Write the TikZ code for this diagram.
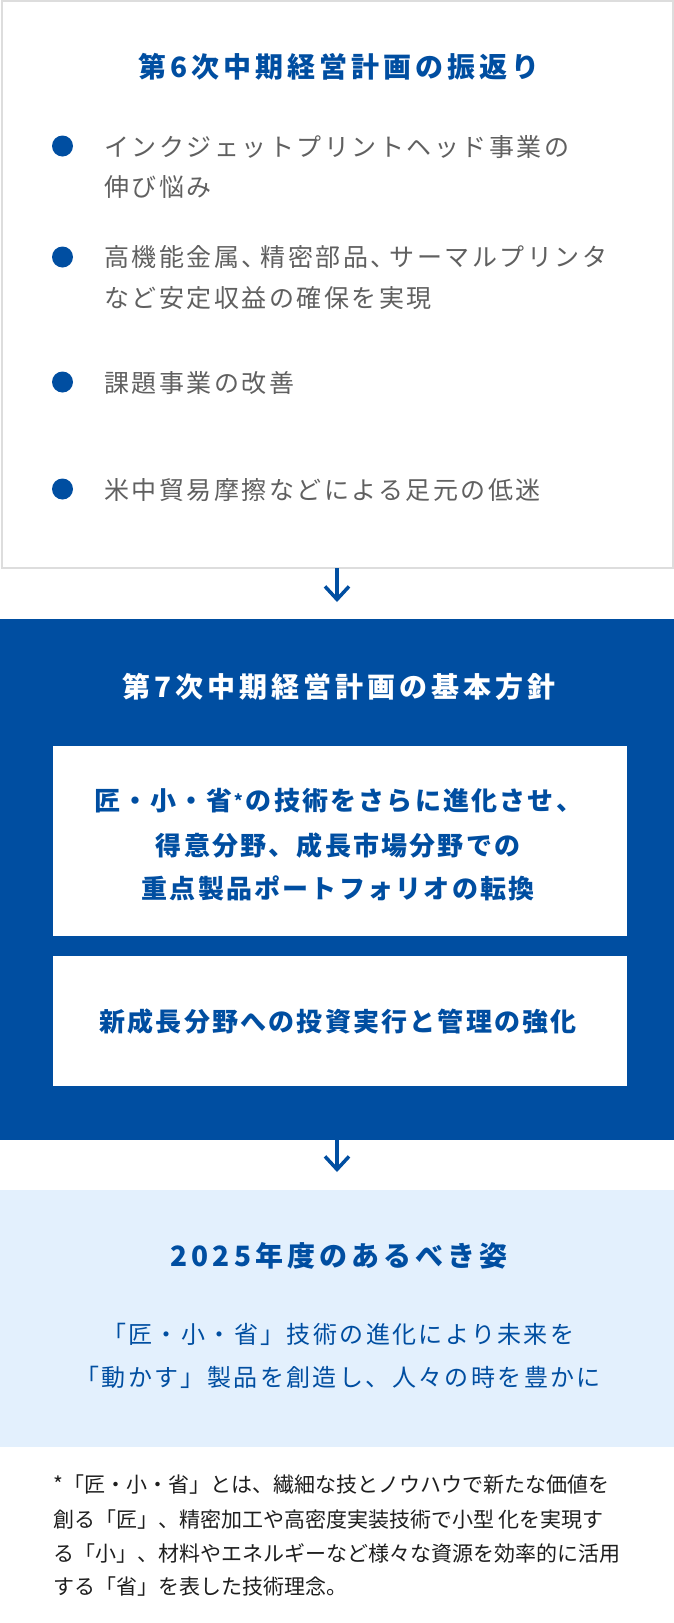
\documentclass[tikz,border=0pt]{standalone}
\usepackage{fontspec}
\usetikzlibrary{arrows.meta}
\setmainfont{Noto Sans CJK JP}
\newfontfamily\ttlfont[LetterSpace=14.3]{Noto Sans CJK JP}
\newfontfamily\bodyfont[LetterSpace=10]{Noto Sans CJK JP}
\newfontfamily\boxfont[LetterSpace=8.5]{Noto Sans CJK JP}
\newfontfamily\notefont{Noto Sans CJK JP}
\definecolor{kblue}{RGB}{0,78,161}
\definecolor{klight}{RGB}{227,240,253}
\definecolor{kgray}{RGB}{96,96,96}
\definecolor{kborder}{RGB}{221,221,221}
\definecolor{knote}{RGB}{30,30,30}
\newcommand{\tightcomma}{、\hspace{-6pt}}
\newcommand{\smallast}{\hspace{1pt}{\fontsize{17pt}{17pt}\selectfont\raisebox{3pt}{*}}\hspace{3pt}}
\begin{document}
\begin{tikzpicture}[x=1pt,y=-1pt,
  panel/.style={inner sep=0pt, outer sep=0pt},
  topbox/.style={panel, draw=kborder, line width=2pt, fill=white},
  bluebox/.style={panel, fill=kblue},
  lightbox/.style={panel, fill=klight},
  whitebox/.style={panel, fill=white},
  dot/.style={circle, fill=kblue, minimum size=21pt, inner sep=0pt},
  ttl/.style={inner sep=0pt, anchor=base, font=\ttlfont\bfseries\fontsize{28pt}{32pt}\selectfont},
  bullettext/.style={inner sep=0pt, anchor=base west, text=kgray, font=\bodyfont\fontsize{25pt}{30pt}\selectfont},
  boxtext/.style={inner sep=0pt, anchor=base, text=kblue, font=\boxfont\bfseries\fontsize{26pt}{30pt}\selectfont},
  lighttext/.style={inner sep=0pt, anchor=base, text=kblue, font=\bodyfont\fontsize{24pt}{30pt}\selectfont},
  notetext/.style={inner sep=0pt, anchor=base west, text=knote, font=\notefont\fontsize{21pt}{26pt}\selectfont},
  arr/.style={draw=kblue, line width=3.5pt, -{Straight Barb[length=13pt,width=24pt]}}
]
\useasboundingbox[fill=white] (0,0) rectangle (674,1623);

% panels
\node[topbox, minimum width=671pt, minimum height=567pt] (top) at (337,284.75) {};
\node[bluebox, minimum width=674pt, minimum height=521pt] (blue) at (337,879.5) {};
\node[lightbox, minimum width=674pt, minimum height=257pt] (light) at (337,1318.5) {};
\node[whitebox, minimum width=574pt, minimum height=190pt] (in1) at (340,841) {};
\node[whitebox, minimum width=574pt, minimum height=130pt] (in2) at (340,1021) {};

% arrows
\draw[arr, shorten >=17pt] (top.south) -- (blue.north);
\draw[arr, shorten >=18pt] (blue.south) -- (light.north);

% top panel
\node[ttl, text=kblue] (t1) at (339,77) {第6次中期経営計画の振返り};
\node[dot] (d1) at (62.5,146) {};
\node[dot] (d2) at (62.5,257) {};
\node[dot] (d3) at (62.5,382) {};
\node[dot] (d4) at (62.5,489) {};
\node[bullettext] (b1a) at (104,156) {インクジェットプリントヘッド事業の};
\node[bullettext] (b1b) at (104,196) {伸び悩み};
\node[bullettext] (b2a) at (104,266) {高機能金属\tightcomma 精密部品\tightcomma サーマルプリンタ};
\node[bullettext] (b2b) at (104,307) {など安定収益の確保を実現};
\node[bullettext] (b3) at (104,392) {課題事業の改善};
\node[bullettext] (b4) at (104,499) {米中貿易摩擦などによる足元の低迷};

% blue panel
\node[ttl, text=white] (t2) at (339,697) {第7次中期経営計画の基本方針};
\node[boxtext] (p1a) at (338.1,810.4) {匠・小・省\smallast の技術をさらに進化させ、};
\node[boxtext] (p1b) at (338.1,855.4) {得意分野、成長市場分野での};
\node[boxtext] (p1c) at (338.1,898.4) {重点製品ポートフォリオの転換};
\node[boxtext] (p2) at (338.1,1031.4) {新成長分野への投資実行と管理の強化};

% light panel
\node[ttl, text=kblue] (t3) at (339,1266) {2025年度のあるべき姿};
\node[lighttext] (l1) at (338.2,1343.6) {「匠・小・省」技術の進化により未来を};
\node[lighttext] (l2) at (338.2,1386.6) {「動かす」製品を創造し、人々の時を豊かに};

% footnote
\node[notetext] (n1) at (53,1492.4) {*「匠・小・省」とは、繊細な技とノウハウで新たな価値を};
\node[notetext] (n2) at (53,1527.4) {創る「匠」、精密加工や高密度実装技術で小型 化を実現す};
\node[notetext] (n3) at (53,1561.4) {る「小」、材料やエネルギーなど様々な資源を効率的に活用};
\node[notetext] (n4) at (53,1594.4) {する「省」を表した技術理念。};
\end{tikzpicture}
\end{document}
